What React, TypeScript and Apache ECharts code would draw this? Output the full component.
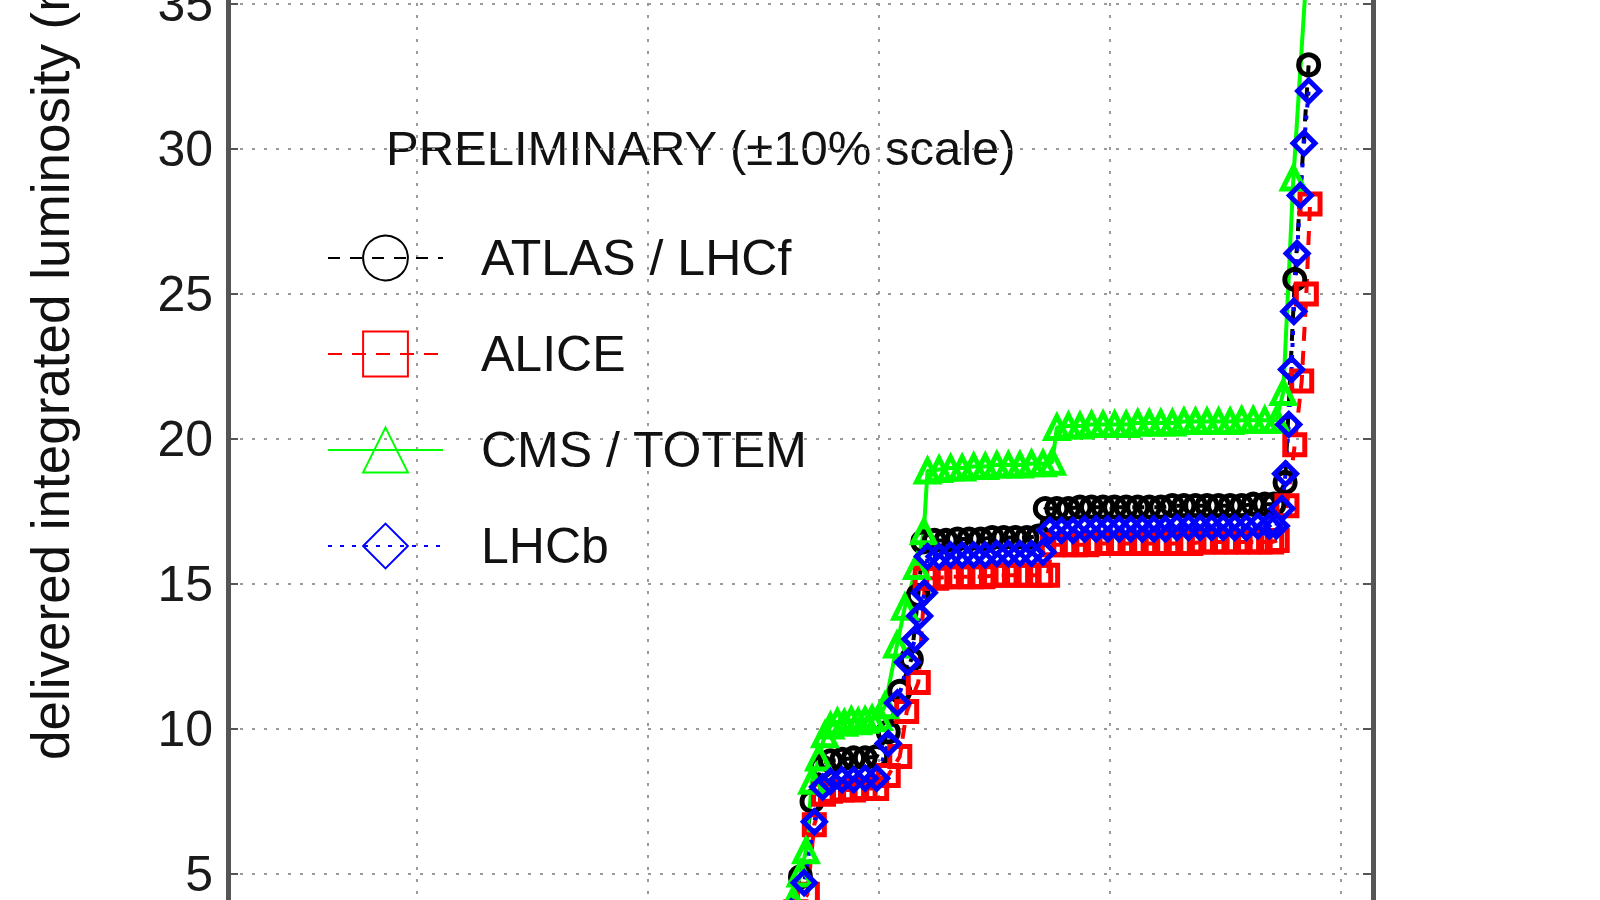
import React, { useEffect, useRef } from 'react';
import * as echarts from 'echarts';

const FONT = "'Liberation Sans', Arial, Helvetica, sans-serif";

// x: day of the run, y: delivered integrated luminosity (nb^-1)
const atlasData: number[][] = [
  [16.5, 0], [20.5, 0.5], [24.0, 1.3], [26.5, 2.2], [28.0, 3.6], [28.3, 4.9], [28.55, 7.5],
  [28.75, 8.7], [28.95, 8.9], [29.2, 8.95], [29.45, 9.0], [29.7, 9.0], [29.95, 9.05],
  [30.2, 9.9], [30.45, 11.3], [30.7, 12.4], [30.85, 14.6], [30.95, 16.45], [31.2, 16.5],
  [31.45, 16.5], [31.7, 16.55], [31.95, 16.55], [32.2, 16.55], [32.45, 16.6], [32.7, 16.6],
  [32.95, 16.6], [33.2, 16.6], [33.45, 16.65], [33.6, 17.6], [33.85, 17.6], [34.1, 17.6],
  [34.35, 17.65], [34.6, 17.65], [34.85, 17.65], [35.1, 17.65], [35.35, 17.65], [35.6, 17.65],
  [35.85, 17.65], [36.1, 17.65], [36.35, 17.7], [36.6, 17.7], [36.85, 17.7], [37.1, 17.7],
  [37.35, 17.7], [37.6, 17.7], [37.85, 17.7], [38.1, 17.75], [38.35, 17.75], [38.55, 17.75],
  [38.79, 18.5], [39.0, 25.5], [39.3, 32.9],
];

const aliceData: number[][] = [
  [16.5, 0], [20.5, 0.5], [24.0, 1.2], [26.5, 2.1], [28.2, 3.7], [28.45, 4.3], [28.6, 6.7],
  [28.8, 7.75], [28.95, 7.85], [29.2, 7.9], [29.45, 7.9], [29.7, 7.95], [29.95, 7.95],
  [30.2, 8.4], [30.45, 9.05], [30.6, 10.6], [30.85, 11.6], [31.0, 15.2], [31.25, 15.2],
  [31.5, 15.25], [31.75, 15.25], [32.0, 15.25], [32.25, 15.25], [32.5, 15.3], [32.75, 15.3],
  [33.0, 15.3], [33.25, 15.3], [33.5, 15.3], [33.65, 15.3], [33.75, 16.35], [34.0, 16.35],
  [34.25, 16.35], [34.5, 16.35], [34.75, 16.4], [35.0, 16.4], [35.25, 16.4], [35.5, 16.4],
  [35.75, 16.4], [36.0, 16.4], [36.25, 16.4], [36.5, 16.4], [36.75, 16.4], [37.0, 16.45],
  [37.25, 16.45], [37.5, 16.45], [37.75, 16.45], [38.0, 16.45], [38.25, 16.45], [38.5, 16.45],
  [38.62, 16.5], [38.83, 17.7], [39.0, 19.8], [39.15, 22.0], [39.25, 25.0], [39.33, 28.1],
];

const cmsData: number[][] = [
  [16.5, 0], [20.5, 0.6], [24.0, 1.5], [26.5, 2.4], [27.9, 3.5], [28.14, 4.1], [28.3, 5.0],
  [28.42, 5.8], [28.55, 8.2], [28.7, 9.0], [28.83, 9.8], [28.95, 10.1], [29.1, 10.25],
  [29.25, 10.2], [29.4, 10.3], [29.55, 10.25], [29.7, 10.3], [29.85, 10.35], [30.0, 10.4],
  [30.13, 10.8], [30.39, 12.9], [30.56, 14.2], [30.82, 15.6], [30.97, 16.8], [31.05, 18.9],
  [31.3, 18.95], [31.55, 19.0], [31.8, 19.0], [32.05, 19.05], [32.3, 19.05], [32.55, 19.1],
  [32.8, 19.1], [33.05, 19.1], [33.3, 19.15], [33.55, 19.15], [33.75, 19.2], [33.85, 20.4],
  [34.1, 20.45], [34.35, 20.45], [34.6, 20.5], [34.85, 20.5], [35.1, 20.5], [35.35, 20.5],
  [35.6, 20.55], [35.85, 20.55], [36.1, 20.55], [36.35, 20.55], [36.6, 20.6], [36.85, 20.6],
  [37.1, 20.6], [37.35, 20.6], [37.6, 20.6], [37.85, 20.65], [38.1, 20.65], [38.35, 20.65],
  [38.6, 20.65], [38.75, 21.6], [38.97, 29.0], [39.35, 38.5],
];

const lhcbData: number[][] = [
  [16.5, 0], [20.5, 0.5], [24.0, 1.3], [26.5, 2.2], [28.1, 3.7], [28.38, 4.7], [28.6, 6.8],
  [28.78, 8.0], [28.95, 8.2], [29.2, 8.25], [29.45, 8.25], [29.7, 8.3], [29.95, 8.3],
  [30.2, 9.5], [30.4, 10.9], [30.62, 12.3], [30.78, 13.1], [30.88, 13.9], [30.98, 14.7],
  [31.05, 15.95], [31.3, 15.95], [31.55, 16.0], [31.8, 16.0], [32.05, 16.0], [32.3, 16.0],
  [32.55, 16.05], [32.8, 16.05], [33.05, 16.05], [33.3, 16.05], [33.55, 16.1], [33.7, 16.85],
  [33.95, 16.85], [34.2, 16.85], [34.45, 16.9], [34.7, 16.9], [34.95, 16.9], [35.2, 16.9],
  [35.45, 16.9], [35.7, 16.9], [35.95, 16.9], [36.2, 16.9], [36.45, 16.95], [36.7, 16.95],
  [36.95, 16.95], [37.2, 16.95], [37.45, 16.95], [37.7, 16.95], [37.95, 16.95], [38.2, 17.0],
  [38.45, 17.0], [38.6, 17.0], [38.72, 17.6], [38.8, 18.8], [38.87, 20.5], [38.93, 22.4],
  [38.98, 24.4], [39.05, 26.4], [39.12, 28.4], [39.2, 30.2], [39.3, 32.0],
];

const seriesNames = ['ATLAS / LHCf', 'ALICE', 'CMS / TOTEM', 'LHCb'];
const yTickLabels = [5, 10, 15, 20, 25, 30, 35];
const xGridDays = [20, 25, 30, 35, 40];

// the chart is taller than the window and shifted up, so that only the
// 4..35 part of the luminosity axis shows, as in the cropped original
const SHIFT = 141;

const gridLine = { color: '#9a9a9a', width: 2, type: [3, 9] as number[] };

const makeSeries = (
  name: string,
  data: number[][],
  color: string,
  symbol: string,
  symbolSize: number,
  dash: number[] | 'solid'
) => ({
  name,
  type: 'line',
  data,
  symbol,
  symbolSize,
  showSymbol: true,
  clip: true,
  lineStyle: { color, width: 4, type: dash },
  itemStyle: { color: 'rgba(255,255,255,0)', borderColor: color, borderWidth: 5 },
  emphasis: { disabled: true },
});

const App: React.FC = () => {
  const chartRef = useRef<HTMLDivElement>(null);

  useEffect(() => {
    if (!chartRef.current) return;
    const chart = echarts.init(chartRef.current, undefined, { renderer: 'svg' });

    const axisFrame = { show: true, lineStyle: { color: '#555', width: 5 } };
    const innerTick = { show: true, inside: true, length: 10, lineStyle: { color: '#555', width: 2 } };

    chart.setOption({
      animation: false,
      backgroundColor: '#fff',
      grid: { left: 228, right: 227, top: 0, bottom: 0, containLabel: false },
      legend: {
        orient: 'vertical',
        left: 327,
        top: 230 + SHIFT,
        padding: 0,
        itemWidth: 115,
        itemHeight: 56,
        itemGap: 40,
        selectedMode: false,
        data: seriesNames,
        textStyle: {
          fontFamily: FONT,
          fontSize: 50,
          color: '#111',
          lineHeight: 56,
          padding: [0, 0, 0, 33],
        },
      },
      graphic: [
        {
          type: 'text',
          x: 386,
          y: 148 + SHIFT,
          silent: true,
          style: {
            text: 'PRELIMINARY (±10% scale)',
            font: `49px ${FONT}`,
            fill: '#111',
            align: 'left',
            verticalAlign: 'middle',
          },
        },
        {
          type: 'text',
          x: 50,
          y: 760 + SHIFT,
          rotation: Math.PI / 2,
          silent: true,
          style: {
            text: 'delivered integrated luminosity (nb⁻¹)',
            font: `53px ${FONT}`,
            fill: '#111',
            align: 'left',
            verticalAlign: 'middle',
          },
        },
      ],
      xAxis: {
        type: 'value',
        min: 15.909,
        max: 40.693,
        axisLine: axisFrame,
        axisTick: { show: false, customValues: xGridDays },
        axisLabel: { show: false, customValues: xGridDays },
        splitLine: { show: true, lineStyle: gridLine },
      },
      yAxis: [
        {
          type: 'value',
          position: 'left',
          min: 0,
          max: 40,
          interval: 5,
          axisLine: axisFrame,
          axisTick: innerTick,
          axisLabel: {
            fontFamily: FONT,
            fontSize: 50,
            color: '#1a1a1a',
            margin: 15,
            formatter: (v: number) => (yTickLabels.includes(v) ? String(v) : ''),
          },
          splitLine: { show: true, lineStyle: gridLine },
        },
        {
          type: 'value',
          position: 'right',
          min: 0,
          max: 40,
          interval: 5,
          axisLine: axisFrame,
          axisTick: innerTick,
          axisLabel: { show: false },
          splitLine: { show: false },
        },
      ],
      series: [
        makeSeries(seriesNames[0], atlasData, '#000000', 'circle', 20, [12, 10]),
        makeSeries(seriesNames[1], aliceData, '#ff0000', 'rect', 20, [14, 10]),
        makeSeries(seriesNames[2], cmsData, '#00ff00', 'triangle', 22, 'solid'),
        makeSeries(seriesNames[3], lhcbData, '#0000ff', 'diamond', 22, [4, 8]),
      ],
    });

    return () => {
      chart.dispose();
    };
  }, []);

  return (
    <div
      style={{
        position: 'absolute',
        left: 0,
        top: 0,
        width: 1600,
        height: 900,
        overflow: 'hidden',
        background: '#fff',
      }}
    >
      <div
        ref={chartRef}
        style={{ position: 'absolute', left: 0, top: -SHIFT, width: 1600, height: 900 + 141 + 119 }}
      />
    </div>
  );
};

export default App;
